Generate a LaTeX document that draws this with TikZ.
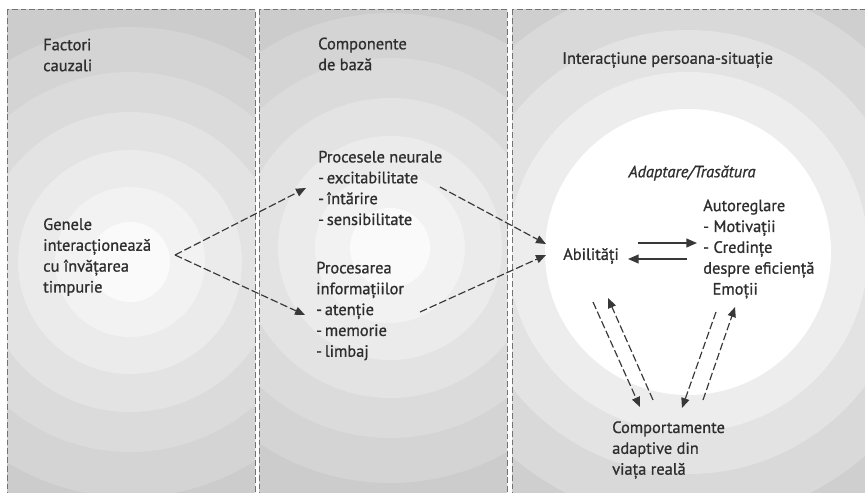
\documentclass[tikz,border=0pt]{standalone}
\usepackage{fontspec}
\setmainfont{PT Sans}[FakeBold=0.9]
\usetikzlibrary{arrows.meta,calc}
\tikzset{
  txt/.style={anchor=west,align=left,inner sep=0pt,text=black!82,font=\fontsize{14}{17.8}\selectfont},
  link/.style={draw=black!78,line width=1pt,dash pattern=on 6.5pt off 2.5pt,-{Triangle[length=8.5pt,width=7pt]}},
  solidlink/.style={draw=black!78,line width=1.2pt,-{Triangle[length=9pt,width=7.5pt]}},
  frame/.style={draw=black!55,line width=0.7pt,dash pattern=on 5pt off 2.5pt}
}
\begin{document}
\begin{tikzpicture}[x=0.03cm,y=-0.03cm]
\useasboundingbox (0,0) rectangle (865,492);
\clip (0,0) rectangle (865,492);
\fill[white] (0,0) rectangle (865,492);
\begin{scope}
  \clip (7,9) rectangle (255,500);
  \foreach \rad/\tone in {340/23,285/20,235/17,190/14,150/11,112/8,75/5,40/2}
    \fill[black!\tone] (130,262) circle[radius=\rad];
\end{scope}
\begin{scope}
  \clip (259,9) rectangle (507,500);
  \foreach \rad/\tone in {340/23,285/20,235/17,190/14,150/11,112/8,75/5,40/2}
    \fill[black!\tone] (390,248) circle[radius=\rad];
\end{scope}
\begin{scope}
  \clip (512,9) rectangle (870,500);
  \foreach \rad/\tone in {400/22,330/19,270/15,222/11,180/7,143/0}
    \fill[black!\tone] (688,252) circle[radius=\rad];
\end{scope}
\draw[frame] (7,9) rectangle (255,500);
\draw[frame] (259,9) rectangle (507,500);
\draw[frame] (512,9) rectangle (870,500);

\node[txt] (cauze) at (43,55) {Factori\\cauzali};
\node[txt] (baza) at (318,54) {Componente\\de bază};
\node[txt] (interactiune) at (562,60) {Interacțiune persoana-situație};
\node[txt] (genele) at (43,257) {Genele\\interacționează\\cu învățarea\\timpurie};
\node[txt] (procesele) at (318,188) {Procesele neurale\\-\,excitabilitate\\-\,întărire\\-\,sensibilitate};
\node[txt] (procesarea) at (316,311) {Procesarea\\informațiilor\\-\,atenție\\-\,memorie\\-\,limbaj};
\node[txt,anchor=center,font=\fontsize{14}{17.8}\selectfont\itshape] (adaptare) at (692,173) {Adaptare/Trasătura};
\node[txt] (abil) at (563,256) {Abilități};
\node[txt] (auto) at (703,249) {Autoreglare\\- Motivații\\- Credințe\\despre eficiență\\\hspace{8pt}Emoții};
\node[txt] (comport) at (612,450) {Comportamente\\adaptive din\\viața reală};

\draw[link] ($(genele.west)+(132,-2)$) -- ($(procesele.west)+(-12,0)$);
\draw[link] ($(genele.west)+(132,-2)$) -- ($(procesarea.west)+(-11,4)$);
\draw[link] ($(procesele.west)+(122,-1)$) -- ($(abil.west)+(-17,-12)$);
\draw[link] ($(procesarea.west)+(104,1)$) -- ($(abil.west)+(-17,-1)$);
\draw[solidlink] ($(abil.west)+(75,-13)$) -- ($(auto.west)+(-6,-6)$);
\draw[solidlink] ($(auto.west)+(-16,10)$) -- ($(abil.west)+(65,3)$);
\draw[link] ($(abil.west)+(30,46)$) -- ($(comport.west)+(28,-43)$);
\draw[link] ($(comport.west)+(41,-50)$) -- ($(abil.west)+(45,42)$);
\draw[link] ($(auto.west)+(13,63)$) -- ($(comport.west)+(70,-42)$);
\draw[link] ($(comport.west)+(91,-50)$) -- ($(auto.west)+(32,58)$);
\end{tikzpicture}
\end{document}
